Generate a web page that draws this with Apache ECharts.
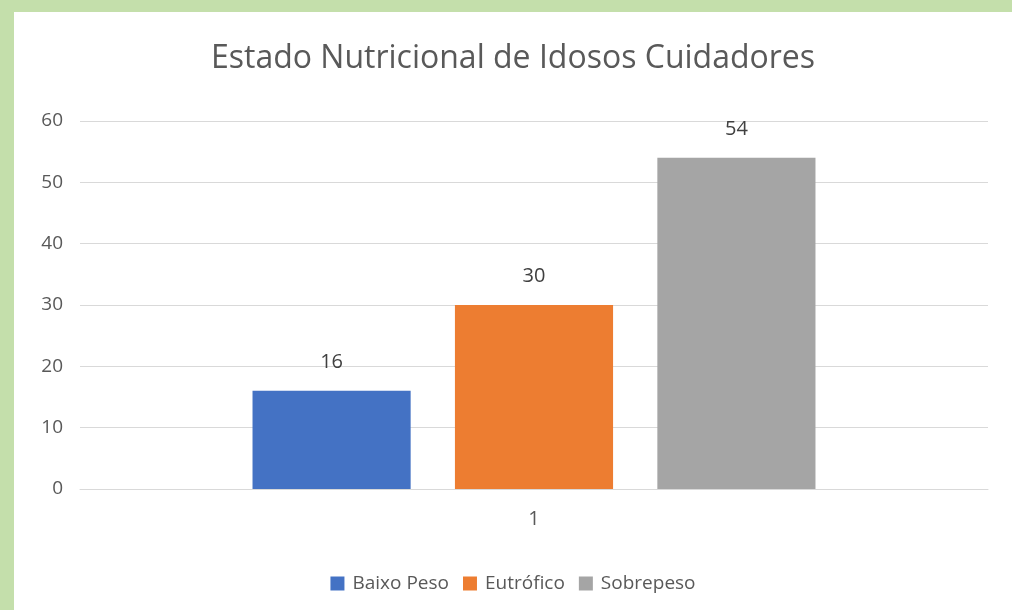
<!DOCTYPE html>
<html>
<head>
<meta charset="utf-8">
<script src="https://cdn.jsdelivr.net/npm/echarts@6/dist/echarts.min.js"></script>
<style>
  html, body { margin: 0; padding: 0; background: #c4dfab; }
  #frame { position: absolute; left: 14px; top: 12px; width: 998px; height: 598px; background: #fff; }
  #chart { width: 100%; height: 100%; }
</style>
</head>
<body>
<div id="frame"><div id="chart"></div></div>
<script>
const categories = ["1"];
const seriesNames = ["Baixo Peso", "Eutrófico", "Sobrepeso"];
const seriesValues = [[16], [30], [54]];
const colors = ["#4472c4", "#ed7d31", "#a5a5a5"];

const chart = echarts.init(document.getElementById("chart"));

const option = {
  animation: false,
  textStyle: { fontFamily: "Open Sans" },
  title: {
    text: "Estado Nutricional de Idosos Cuidadores",
    left: "center",
    top: 26,
    textStyle: { fontSize: 32, fontWeight: "normal", color: "#595959", fontFamily: "Open Sans" }
  },
  legend: {
    top: 557,
    left: "center",
    itemWidth: 14,
    itemHeight: 14,
    itemGap: 14,
    icon: "rect",
    textStyle: { fontSize: 19, color: "#595959", padding: [0, 0, 0, 3] },
    data: seriesNames
  },
  grid: { left: 66, right: 24, top: 109, bottom: 121 },
  xAxis: {
    type: "category",
    data: categories,
    axisLine: { lineStyle: { color: "#d9d9d9" } },
    axisTick: { show: false },
    axisLabel: { fontSize: 20, color: "#595959", margin: 20 }
  },
  yAxis: {
    type: "value",
    min: 0,
    max: 60,
    interval: 10,
    axisLine: { show: false },
    axisTick: { show: false },
    axisLabel: { fontSize: 19, color: "#595959", margin: 17 },
    splitLine: { lineStyle: { color: "#d9d9d9" } }
  },
  series: seriesNames.map((name, i) => ({
    name: name,
    type: "bar",
    data: seriesValues[i],
    barGap: "28%",
    barCategoryGap: "38%",
    itemStyle: { color: colors[i] },
    label: { show: true, position: "top", distance: 19, fontSize: 20, color: "#404040" }
  }))
};

chart.setOption(option);
</script>
</body>
</html>
